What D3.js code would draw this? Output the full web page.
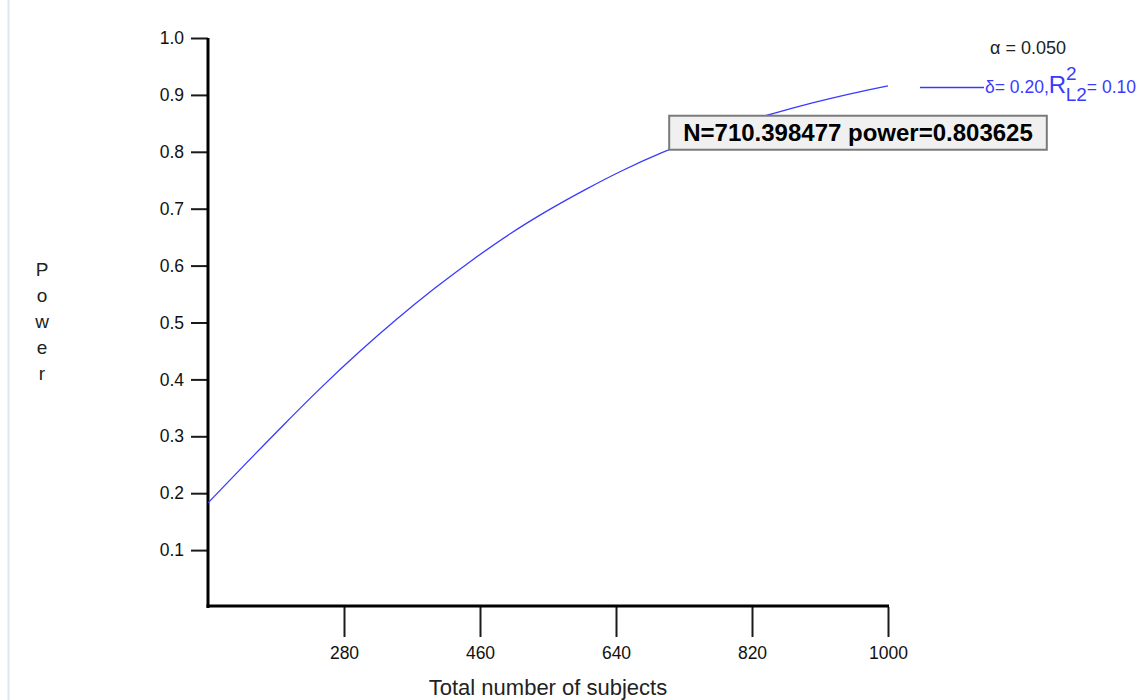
<!DOCTYPE html>
<html>
<head>
<meta charset="utf-8">
<script src="https://cdn.jsdelivr.net/npm/d3@7"></script>
<style>
  html, body { margin: 0; padding: 0; background: #ffffff; }
  svg { display: block; font-family: "Liberation Sans", Arial, sans-serif; }
</style>
</head>
<body>
<svg id="chart" width="1146" height="700"></svg>
<script>
// Power curve: total number of subjects vs. power
const sampleSizes = [100, 150, 200, 250, 300, 350, 400, 450, 500, 550, 600, 650, 700, 750, 800, 850, 900, 950, 1000];
const powerValues = [0.183, 0.252, 0.320, 0.386, 0.448, 0.506, 0.560, 0.610, 0.656, 0.697, 0.734, 0.768, 0.798, 0.824, 0.848, 0.868, 0.886, 0.902, 0.916];
const xTickValues = [280, 460, 640, 820, 1000];
const yTickValues = [0.1, 0.2, 0.3, 0.4, 0.5, 0.6, 0.7, 0.8, 0.9, 1.0];
const markerN = 710.398477;
const markerPower = 0.803625;

const FONT = "Liberation Sans, Arial, sans-serif";
const svg = d3.select("#chart");

// thin frame line at the left edge of the window
svg.append("line")
  .attr("x1", 8.5).attr("x2", 8.5).attr("y1", 0).attr("y2", 700)
  .attr("stroke", "#dfe6ee").attr("stroke-width", 2);

const x = d3.scaleLinear().domain([100, 1000]).range([208, 888]);
const y = d3.scaleLinear().domain([0, 1]).range([607, 38]);

// y axis
const yAxis = svg.append("g")
  .attr("transform", `translate(${x(100)},0)`)
  .call(d3.axisLeft(y).tickValues(yTickValues).tickFormat(d3.format(".1f"))
    .tickSize(17).tickPadding(7).tickSizeOuter(0));
yAxis.attr("font-size", null).attr("font-family", null);
yAxis.select(".domain").remove();
yAxis.selectAll(".tick line").attr("stroke", "#1a1a1a").attr("stroke-width", 2);
yAxis.selectAll(".tick text").attr("font-size", 17.5).attr("fill", "#111")
  .attr("font-family", FONT);

// x axis
const xAxis = svg.append("g")
  .attr("transform", `translate(0,${y(0)})`)
  .call(d3.axisBottom(x).tickValues(xTickValues).tickFormat(d3.format("d"))
    .tickSize(30).tickPadding(10).tickSizeOuter(0));
xAxis.attr("font-size", null).attr("font-family", null);
xAxis.select(".domain").remove();
xAxis.selectAll(".tick line").attr("stroke", "#1a1a1a").attr("stroke-width", 2);
xAxis.selectAll(".tick text").attr("font-size", 17.5).attr("fill", "#111")
  .attr("font-family", FONT);

// heavy axis lines
svg.append("line")
  .attr("x1", x(100)).attr("x2", x(100)).attr("y1", y(1)).attr("y2", y(0) + 1)
  .attr("stroke", "#000").attr("stroke-width", 3);
svg.append("line")
  .attr("x1", x(100) - 1.5).attr("x2", x(1000) + 1).attr("y1", y(0) - 1).attr("y2", y(0) - 1)
  .attr("stroke", "#000").attr("stroke-width", 3);

// power curve
const data = sampleSizes.map((n, i) => ({ n, p: powerValues[i] }));
const line = d3.line().x(d => x(d.n)).y(d => y(d.p)).curve(d3.curveMonotoneX);
svg.append("path")
  .datum(data)
  .attr("d", line)
  .attr("fill", "none")
  .attr("stroke", "#3a3aff")
  .attr("stroke-width", 1.3);

// axis titles
svg.append("text")
  .attr("x", 548).attr("y", 695)
  .attr("text-anchor", "middle")
  .attr("font-size", 22).attr("fill", "#222")
  .text("Total number of subjects");

const yTitle = svg.append("text")
  .attr("text-anchor", "middle")
  .attr("font-size", 19).attr("fill", "#222");
"Power".split("").forEach((ch, i) => {
  yTitle.append("tspan").attr("x", 42).attr("y", 276 + i * 26).text(ch);
});

// legend
svg.append("text")
  .attr("x", 990).attr("y", 54)
  .attr("font-size", 18).attr("fill", "#222")
  .text("α = 0.050");

svg.append("line")
  .attr("x1", 920).attr("x2", 984).attr("y1", 87.5).attr("y2", 87.5)
  .attr("stroke", "#3a3aff").attr("stroke-width", 1.3);

const leg = svg.append("text")
  .attr("x", 985).attr("y", 93)
  .attr("fill", "#3a3aff").attr("font-size", 17.5);
leg.append("tspan").text("δ= 0.20,");
leg.append("tspan").attr("font-size", 24).text("R");
leg.append("tspan").attr("font-size", 19).attr("dy", -13).text("2");
leg.append("tspan").attr("font-size", 19).attr("dx", -11).attr("dy", 21).text("L2");
leg.append("tspan").attr("dy", -8).text("= 0.10");

// marker annotation box
const boxX = x(markerN);
const boxY = y(markerPower);
const note = svg.append("g");
const noteText = note.append("text")
  .attr("x", boxX + 14).attr("y", boxY - 9)
  .attr("font-size", 24).attr("font-weight", "bold").attr("fill", "#000")
  .text(`N=${markerN.toFixed(6)} power=${markerPower.toFixed(6)}`);
const bb = noteText.node().getBBox();
note.insert("rect", "text")
  .attr("x", boxX).attr("y", boxY - 34)
  .attr("width", bb.width + 28).attr("height", 34)
  .attr("fill", "#f0f0f0").attr("stroke", "#7a7a7a").attr("stroke-width", 2);
</script>
</body>
</html>
